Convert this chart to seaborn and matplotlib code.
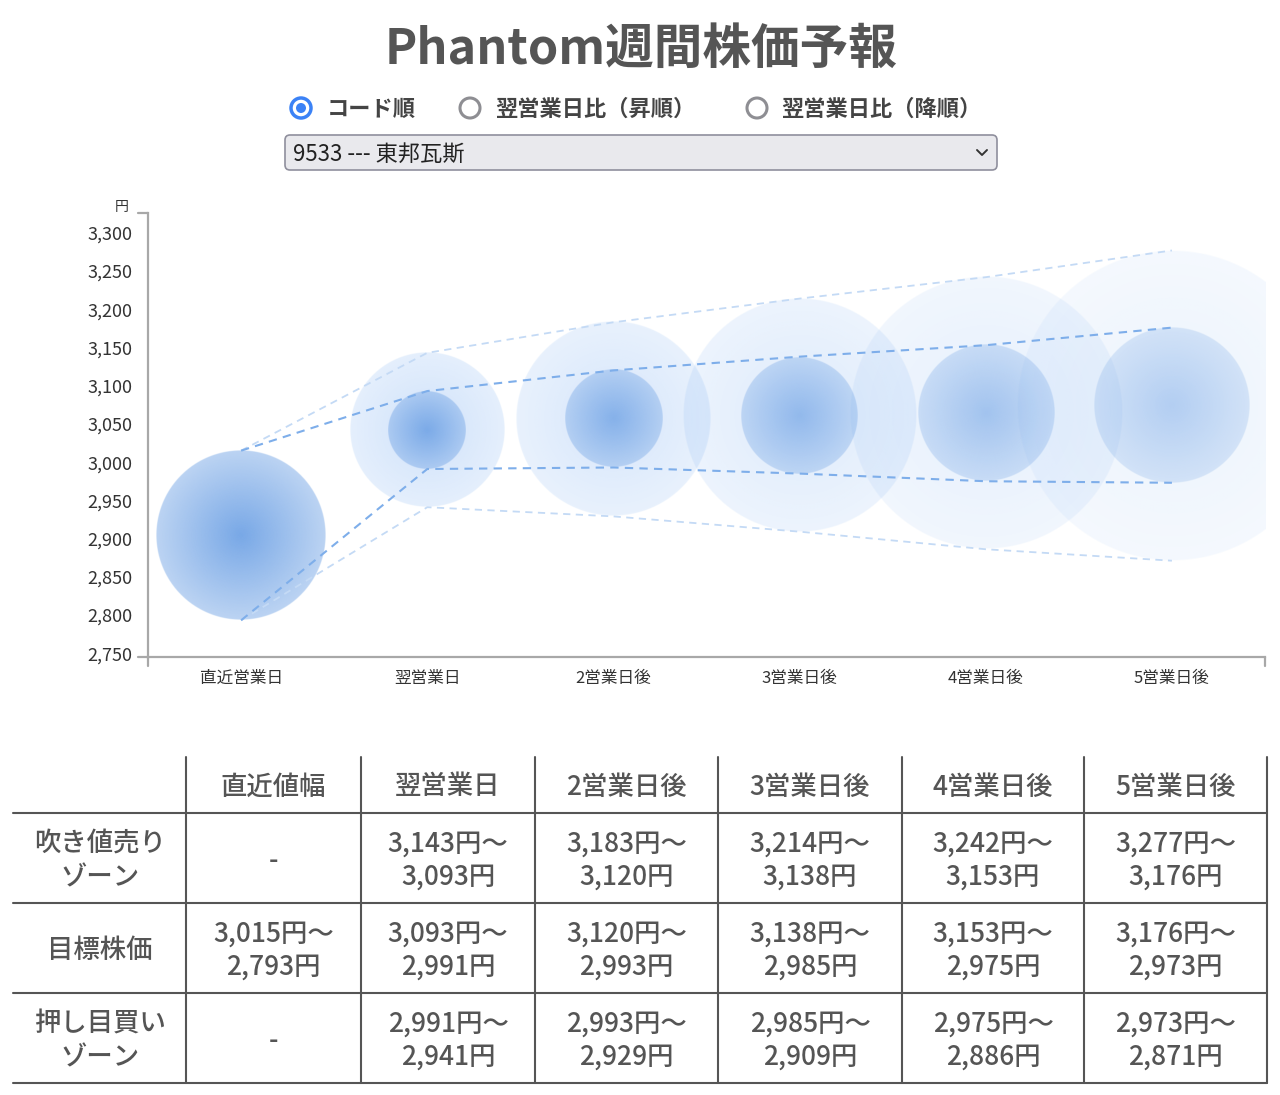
import numpy as np
import pandas as pd
import seaborn as sns
import matplotlib.pyplot as plt
from matplotlib.lines import Line2D
from matplotlib.patches import Circle, FancyBboxPatch

# データ
days = ["直近営業日", "翌営業日", "2営業日後", "3営業日後", "4営業日後", "5営業日後"]
col_heads = ["直近値幅", "翌営業日", "2営業日後", "3営業日後", "4営業日後", "5営業日後"]
row_heads = [["吹き値売り", "ゾーン"], ["目標株価"], ["押し目買い", "ゾーン"]]
sell_hi = [None, 3143, 3183, 3214, 3242, 3277]
sell_lo = [None, 3093, 3120, 3138, 3153, 3176]
tgt_hi = [3015, 3093, 3120, 3138, 3153, 3176]
tgt_lo = [2793, 2991, 2993, 2985, 2975, 2973]
buy_hi = [None, 2991, 2993, 2985, 2975, 2973]
buy_lo = [None, 2941, 2929, 2909, 2886, 2871]
yticks = list(range(2750, 3301, 50))
sort_opts = ["コード順", "翌営業日比（昇順）", "翌営業日比（降順）"]
stock = "9533 --- 東邦瓦斯"
title = "Phantom週間株価予報"

sns.set_theme(style="white")
plt.rcParams['font.family'] = ['Noto Sans CJK JP', 'DejaVu Sans']

W, H = 1280, 1095
fig = plt.figure(figsize=(W / 100, H / 100), dpi=100)

# 背景(ピクセル座標)
bg = fig.add_axes([0, 0, 1, 1])
bg.set_xlim(0, W)
bg.set_ylim(H, 0)
bg.axis('off')

# チャート
L, R, T, B = 148, 1265, 213, 657
ax = fig.add_axes([L / W, (H - B) / H, (R - L) / W, (B - T) / H])
ax.set_facecolor('none')
ylo, yhi = 2745, 3326
ax.set_xlim(-0.5, 5.5)
ax.set_ylim(ylo, yhi)

ppx = (R - L) / 6
ppy = (B - T) / (yhi - ylo)
kx = ppy / ppx

N = 400
g = np.linspace(-1, 1, N)
xx, yy = np.meshgrid(g, g)
rr = np.hypot(xx, yy)
edge = np.clip((1 - rr) * N / 2, 0, 1)


def blob(x, lo, hi, a0, fall, rgb):
    cy = (hi + lo) / 2
    r = (hi - lo) / 2
    img = np.zeros((N, N, 4))
    img[..., :3] = np.array(rgb) / 255
    img[..., 3] = a0 * (1 - fall * np.clip(rr, 0, 1)) * edge
    ax.imshow(img, extent=[x - r * kx, x + r * kx, cy - r, cy + r],
              aspect='auto', origin='lower', interpolation='bilinear', zorder=1)


inner_a = [0.87, 0.78, 0.70, 0.62, 0.52, 0.42]
outer_a = [0, 0.30, 0.26, 0.21, 0.16, 0.12]
for i in range(len(days)):
    if sell_hi[i] is not None:
        blob(i, buy_lo[i], sell_hi[i], outer_a[i], 0.45, (95, 158, 240))
    blob(i, tgt_lo[i], tgt_hi[i], inner_a[i], 0.5, (100, 155, 227))

x = np.arange(len(days))
outer_top = [tgt_hi[0]] + sell_hi[1:]
outer_bot = [tgt_lo[0]] + buy_lo[1:]
for vals, col, lw in [(outer_top, '#c4daf5', 1.3), (outer_bot, '#c4daf5', 1.3),
                      (tgt_hi, '#7eaeea', 1.5), (tgt_lo, '#7eaeea', 1.5)]:
    sns.lineplot(x=x, y=vals, ax=ax, color=col, lw=lw, linestyle=(0, (4, 3)), zorder=3)

ax.set_xlim(-0.5, 5.5)
ax.set_ylim(ylo, yhi)
ax.set_xticks(x, days)
ax.set_yticks(yticks, [f"{v:,}" for v in yticks])
ax.tick_params(axis='x', length=0, pad=9, labelsize=12, labelcolor='#333333')
ax.tick_params(axis='y', length=0, pad=11, labelsize=13, labelcolor='#333333')
sns.despine(ax=ax)
for s in ['left', 'bottom']:
    ax.spines[s].set_color('#a8a8a8')
    ax.spines[s].set_linewidth(1.6)

# 軸の端
for (x0, y0, x1, y1) in [(138, B, L, B), (L, B, L, 666), (138, T, L, T), (R, B, R, 666)]:
    bg.add_line(Line2D([x0, x1], [y0, y1], color='#a8a8a8', lw=1.6))
bg.text(122, 207, "円", fontsize=10, color='#333333', ha='center', va='center')

# タイトル
bg.text(641, 49, title, fontsize=35, fontweight='bold', color='#555555', ha='center', va='center')

# ラジオボタン
for rx, tx, lab, on in zip([301, 470, 757], [327, 495, 781], sort_opts, [True, False, False]):
    if on:
        bg.add_patch(Circle((rx, 108), 10, fc='white', ec='#3b82f6', lw=2.5))
        bg.add_patch(Circle((rx, 108), 5, fc='#3b82f6', ec='none'))
    else:
        bg.add_patch(Circle((rx, 108), 10, fc='white', ec='#8e8e93', lw=2.2))
    bg.text(tx, 109, lab, fontsize=16, fontweight='bold', color='#444444', ha='left', va='center')

# プルダウン
bg.add_patch(FancyBboxPatch((285, 135), 712, 35, boxstyle="round,pad=0,rounding_size=5",
                            fc='#e9e9ed', ec='#8f8f9d', lw=1.2))
bg.text(293, 154, stock, fontsize=16, color='#222222', ha='left', va='center')
bg.add_line(Line2D([977, 982, 987], [150, 155, 150], color='#333333', lw=1.4))

# 表
xs = [14, 186, 361, 535, 718, 902, 1084, 1267]
ys = [757, 813, 903, 993, 1083]
for yv in ys[1:]:
    bg.add_line(Line2D([13, 1267], [yv, yv], color='#555555', lw=1.5))
for xv in xs[1:]:
    bg.add_line(Line2D([xv, xv], [ys[0], ys[-1]], color='#555555', lw=1.5))

cx = [(xs[i] + xs[i + 1]) / 2 for i in range(len(xs) - 1)]
tkw = dict(fontsize=19, fontweight='medium', color='#555555', ha='center', va='center')
for j, h in enumerate(col_heads):
    bg.text(cx[j + 1], 787, h, **tkw)

rows = [(sell_hi, sell_lo), (tgt_hi, tgt_lo), (buy_hi, buy_lo)]
for k, (hi, lo) in enumerate(rows):
    yc = (ys[k + 1] + ys[k + 2]) / 2 + 3
    lab = row_heads[k]
    if len(lab) == 2:
        bg.text(cx[0], yc - 16.5, lab[0], **tkw)
        bg.text(cx[0], yc + 16.5, lab[1], **tkw)
    else:
        bg.text(cx[0], yc, lab[0], **tkw)
    for j in range(len(days)):
        if hi[j] is None:
            bg.text(cx[j + 1], yc, "-", **tkw)
        else:
            bg.text(cx[j + 1], yc - 16.5, f"{hi[j]:,}円〜", **tkw)
            bg.text(cx[j + 1], yc + 16.5, f"{lo[j]:,}円", **tkw)

fig.savefig("out.png", dpi=100)
